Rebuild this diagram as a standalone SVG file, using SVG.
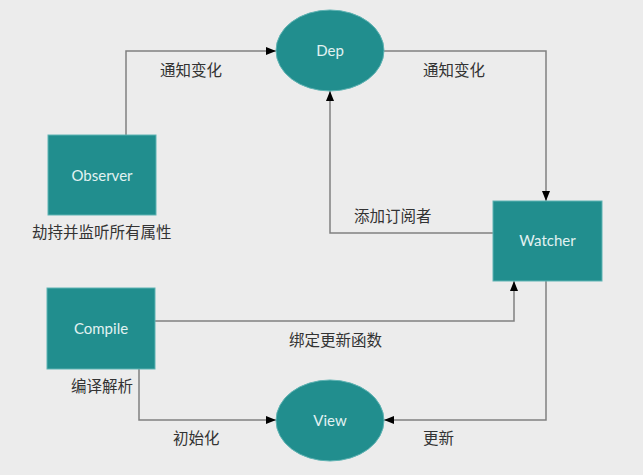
<svg xmlns="http://www.w3.org/2000/svg" width="643" height="475" viewBox="0 0 643 475">
<defs>
<marker id="arr" viewBox="0 0 10 10" refX="10" refY="5" markerWidth="10" markerHeight="10" markerUnits="userSpaceOnUse" orient="auto">
<path d="M0,1 L10,5 L0,9 Z" fill="#000"/>
</marker>
<style>
.node{fill:#218e8e;stroke:#5fb3b3;stroke-width:1}
.nt{font-family:Lato,"Open Sans",sans-serif;font-size:15px;fill:#e2f2f2;text-anchor:middle}
.lb{font-family:"Noto Sans CJK SC","Noto Sans",sans-serif;font-size:15.5px;fill:#333}
.ln{fill:none;stroke:#808080;stroke-width:1.5}
</style>
</defs>
<rect width="643" height="475" fill="#ececec"/>
<g id="connectors">
<polyline class="ln" points="126,135 126,51 276,51" marker-end="url(#arr)"/>
<polyline class="ln" points="384,51 546,51 546,201" marker-end="url(#arr)"/>
<polyline class="ln" points="493,233 330,233 330,91" marker-end="url(#arr)"/>
<polyline class="ln" points="155,321 514,321 514,281" marker-end="url(#arr)"/>
<polyline class="ln" points="139,369 139,420 276,420" marker-end="url(#arr)"/>
<polyline class="ln" points="546,281 546,420 384,420" marker-end="url(#arr)"/>
</g>
<g id="labels">
<text class="lb" x="160" y="76">通知变化</text>
<text class="lb" x="423" y="76">通知变化</text>
<text class="lb" x="32" y="238">劫持并监听所有属性</text>
<text class="lb" x="354" y="222">添加订阅者</text>
<text class="lb" x="289" y="346">绑定更新函数</text>
<text class="lb" x="71" y="392">编译解析</text>
<text class="lb" x="173" y="444">初始化</text>
<text class="lb" x="423" y="444">更新</text>
</g>
<g id="dep">
<ellipse class="node" cx="330" cy="50.5" rx="54" ry="40.5"/>
<text class="nt" x="330" y="56">Dep</text>
</g>
<g id="observer">
<rect class="node" x="48" y="135" width="108" height="80"/>
<text class="nt" x="102" y="181">Observer</text>
</g>
<g id="watcher">
<rect class="node" x="493" y="201" width="109" height="80"/>
<text class="nt" x="547.5" y="246">Watcher</text>
</g>
<g id="compile">
<rect class="node" x="47" y="288" width="108" height="81"/>
<text class="nt" x="101" y="334">Compile</text>
</g>
<g id="view">
<ellipse class="node" cx="330" cy="420.5" rx="54" ry="40.5"/>
<text class="nt" x="330" y="426">View</text>
</g>
</svg>
